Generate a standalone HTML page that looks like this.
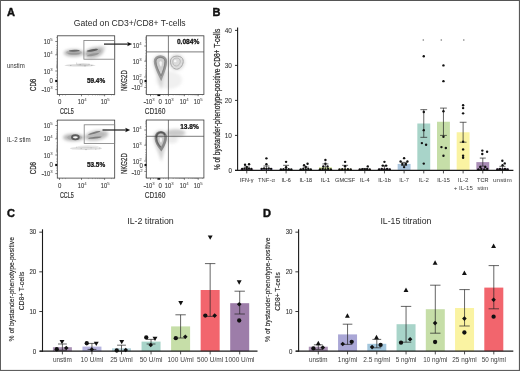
<!DOCTYPE html>
<html><head><meta charset="utf-8"><title>Figure</title>
<style>html,body{margin:0;padding:0;background:#fff;}body{width:520px;height:371px;overflow:hidden;font-family:"Liberation Sans", sans-serif;}svg{display:block;opacity:0.999;font-family:"Liberation Sans", sans-serif;}</style>
</head><body>
<svg width="520" height="371" viewBox="0 0 520 371">
<defs>
<filter id="b1" x="-30%" y="-30%" width="160%" height="160%"><feGaussianBlur stdDeviation="0.7"/></filter>
<filter id="b2" x="-30%" y="-30%" width="160%" height="160%"><feGaussianBlur stdDeviation="1.4"/></filter>
<filter id="b3" x="-30%" y="-30%" width="160%" height="160%"><feGaussianBlur stdDeviation="2.2"/></filter>
</defs>
<rect x="0" y="0" width="520" height="371" fill="#fff"/>
<rect x="0" y="0" width="520" height="1" fill="#555"/>
<rect x="0" y="0" width="1" height="371" fill="#5e5e5e"/>
<rect x="518.9" y="0" width="1.1" height="371" fill="#5a5a5a"/>
<rect x="0" y="369.9" width="520" height="1.1" fill="#5e5e5e"/>
<text x="6.9" y="15.8" font-size="11" text-anchor="start" fill="#111" font-weight="bold" stroke="#111" stroke-width="0.45">A</text>
<text x="212.4" y="16.2" font-size="11" text-anchor="start" fill="#111" font-weight="bold" stroke="#111" stroke-width="0.45">B</text>
<text x="7.0" y="217.3" font-size="11" text-anchor="start" fill="#111" font-weight="bold" stroke="#111" stroke-width="0.45">C</text>
<text x="263" y="217.1" font-size="11" text-anchor="start" fill="#111" font-weight="bold" stroke="#111" stroke-width="0.45">D</text>
<text transform="translate(73.75,26.4) scale(0.9912,1)" font-size="8.7" fill="#2a2a2a" font-weight="normal">Gated on CD3+/CD8+ T-cells</text>
<text transform="translate(127.2,224.4) scale(1.0029,1)" font-size="8.8" fill="#2a2a2a" font-weight="normal">IL-2 titration</text>
<text transform="translate(380.4,224.4) scale(0.9949,1)" font-size="8.8" fill="#2a2a2a" font-weight="normal">IL-15 titration</text>
<rect x="57.3" y="35.8" width="57.40" height="58.70" fill="#fff" stroke="#3a3a3a" stroke-width="0.8"/>
<text transform="translate(43.85,44) scale(0.8329,1)" font-size="6.8" fill="#363636" font-weight="normal" stroke="#363636" stroke-width="0.12">10</text>
<text transform="translate(50.3,41.2) scale(1.0274,1)" font-size="4.2" fill="#363636" font-weight="normal">5</text>
<text transform="translate(43.85,57) scale(0.8329,1)" font-size="6.8" fill="#363636" font-weight="normal" stroke="#363636" stroke-width="0.12">10</text>
<text transform="translate(50.3,54.2) scale(1.0274,1)" font-size="4.2" fill="#363636" font-weight="normal">4</text>
<text transform="translate(43.85,74) scale(0.8329,1)" font-size="6.8" fill="#363636" font-weight="normal" stroke="#363636" stroke-width="0.12">10</text>
<text transform="translate(50.3,71.2) scale(1.0274,1)" font-size="4.2" fill="#363636" font-weight="normal">3</text>
<text transform="translate(49.4,83) scale(0.8990,1)" font-size="6.8" fill="#363636" font-weight="normal" stroke="#363636" stroke-width="0.07">0</text>
<line x1="41.65" y1="90.50" x2="44.05" y2="90.50" stroke="#363636" stroke-width="0.8"/>
<text transform="translate(43.85,92) scale(0.8329,1)" font-size="6.8" fill="#363636" font-weight="normal" stroke="#363636" stroke-width="0.12">10</text>
<text transform="translate(50.3,89.2) scale(1.0274,1)" font-size="4.2" fill="#363636" font-weight="normal">3</text>
<line x1="55.30" y1="41.50" x2="57.30" y2="41.50" stroke="#444" stroke-width="0.7"/>
<line x1="55.30" y1="54.80" x2="57.30" y2="54.80" stroke="#444" stroke-width="0.7"/>
<line x1="55.30" y1="71.00" x2="57.30" y2="71.00" stroke="#444" stroke-width="0.7"/>
<line x1="55.30" y1="89.60" x2="57.30" y2="89.60" stroke="#444" stroke-width="0.7"/>
<line x1="56.20" y1="37.50" x2="57.30" y2="37.50" stroke="#666" stroke-width="0.5"/>
<line x1="56.20" y1="45.50" x2="57.30" y2="45.50" stroke="#666" stroke-width="0.5"/>
<line x1="56.20" y1="47.80" x2="57.30" y2="47.80" stroke="#666" stroke-width="0.5"/>
<line x1="56.20" y1="49.50" x2="57.30" y2="49.50" stroke="#666" stroke-width="0.5"/>
<line x1="56.20" y1="50.90" x2="57.30" y2="50.90" stroke="#666" stroke-width="0.5"/>
<line x1="56.20" y1="52.10" x2="57.30" y2="52.10" stroke="#666" stroke-width="0.5"/>
<line x1="56.20" y1="53.10" x2="57.30" y2="53.10" stroke="#666" stroke-width="0.5"/>
<line x1="56.20" y1="53.90" x2="57.30" y2="53.90" stroke="#666" stroke-width="0.5"/>
<line x1="56.20" y1="58.80" x2="57.30" y2="58.80" stroke="#666" stroke-width="0.5"/>
<line x1="56.20" y1="61.20" x2="57.30" y2="61.20" stroke="#666" stroke-width="0.5"/>
<line x1="56.20" y1="62.90" x2="57.30" y2="62.90" stroke="#666" stroke-width="0.5"/>
<line x1="56.20" y1="64.30" x2="57.30" y2="64.30" stroke="#666" stroke-width="0.5"/>
<line x1="56.20" y1="65.50" x2="57.30" y2="65.50" stroke="#666" stroke-width="0.5"/>
<line x1="56.20" y1="66.50" x2="57.30" y2="66.50" stroke="#666" stroke-width="0.5"/>
<line x1="56.20" y1="67.30" x2="57.30" y2="67.30" stroke="#666" stroke-width="0.5"/>
<line x1="56.20" y1="68.00" x2="57.30" y2="68.00" stroke="#666" stroke-width="0.5"/>
<line x1="56.20" y1="75.00" x2="57.30" y2="75.00" stroke="#666" stroke-width="0.5"/>
<line x1="56.20" y1="77.50" x2="57.30" y2="77.50" stroke="#666" stroke-width="0.5"/>
<line x1="56.20" y1="84.00" x2="57.30" y2="84.00" stroke="#666" stroke-width="0.5"/>
<line x1="56.20" y1="86.50" x2="57.30" y2="86.50" stroke="#666" stroke-width="0.5"/>
<rect x="55.2" y="79.90" width="2.0" height="2.2" fill="#111"/>
<text transform="translate(58.0,104) scale(0.8990,1)" font-size="6.8" fill="#363636" font-weight="normal" stroke="#363636" stroke-width="0.07">0</text>
<text transform="translate(77.85,104) scale(0.8329,1)" font-size="6.8" fill="#363636" font-weight="normal" stroke="#363636" stroke-width="0.12">10</text>
<text transform="translate(84.3,101.2) scale(1.0274,1)" font-size="4.2" fill="#363636" font-weight="normal">4</text>
<text transform="translate(100.85,104) scale(0.8329,1)" font-size="6.8" fill="#363636" font-weight="normal" stroke="#363636" stroke-width="0.12">10</text>
<text transform="translate(107.3,101.2) scale(1.0274,1)" font-size="4.2" fill="#363636" font-weight="normal">5</text>
<line x1="59.5" y1="94.50" x2="59.5" y2="96.30" stroke="#444" stroke-width="0.7"/>
<line x1="81.5" y1="94.50" x2="81.5" y2="96.30" stroke="#444" stroke-width="0.7"/>
<line x1="104.6" y1="94.50" x2="104.6" y2="96.30" stroke="#444" stroke-width="0.7"/>
<line x1="62.5" y1="94.50" x2="62.5" y2="95.50" stroke="#666" stroke-width="0.5"/>
<line x1="65.5" y1="94.50" x2="65.5" y2="95.50" stroke="#666" stroke-width="0.5"/>
<line x1="88.4" y1="94.50" x2="88.4" y2="95.50" stroke="#666" stroke-width="0.5"/>
<line x1="92.5" y1="94.50" x2="92.5" y2="95.50" stroke="#666" stroke-width="0.5"/>
<line x1="95.4" y1="94.50" x2="95.4" y2="95.50" stroke="#666" stroke-width="0.5"/>
<line x1="97.6" y1="94.50" x2="97.6" y2="95.50" stroke="#666" stroke-width="0.5"/>
<line x1="99.4" y1="94.50" x2="99.4" y2="95.50" stroke="#666" stroke-width="0.5"/>
<line x1="100.9" y1="94.50" x2="100.9" y2="95.50" stroke="#666" stroke-width="0.5"/>
<line x1="102.2" y1="94.50" x2="102.2" y2="95.50" stroke="#666" stroke-width="0.5"/>
<line x1="103.4" y1="94.50" x2="103.4" y2="95.50" stroke="#666" stroke-width="0.5"/>
<line x1="111.5" y1="94.50" x2="111.5" y2="95.50" stroke="#666" stroke-width="0.5"/>
<line x1="114" y1="94.50" x2="114" y2="95.50" stroke="#666" stroke-width="0.5"/>
<text transform="translate(59.9,113.9) scale(0.6350,1)" font-size="8.5" fill="#363636" font-weight="normal" stroke="#363636" stroke-width="0.22">CCL5</text>
<text transform="translate(33.0,84.9) rotate(-90) translate(-6.15,3.06) scale(0.7233,1)" font-size="8.5" fill="#363636" stroke="#363636" stroke-width="0.25">CD8</text>
<text transform="translate(86.9,82.7) scale(0.9779,1)" font-size="6.6" fill="#111" font-weight="bold" stroke="#111" stroke-width="0.25">59.4%</text>
<text transform="translate(6.9,67.9) scale(0.9208,1)" font-size="6.6" fill="#333" font-weight="normal">unstim</text>
<rect x="57.3" y="120.1" width="57.40" height="58.00" fill="#fff" stroke="#3a3a3a" stroke-width="0.8"/>
<text transform="translate(43.85,128) scale(0.8329,1)" font-size="6.8" fill="#363636" font-weight="normal" stroke="#363636" stroke-width="0.12">10</text>
<text transform="translate(50.3,125.2) scale(1.0274,1)" font-size="4.2" fill="#363636" font-weight="normal">5</text>
<text transform="translate(43.85,141) scale(0.8329,1)" font-size="6.8" fill="#363636" font-weight="normal" stroke="#363636" stroke-width="0.12">10</text>
<text transform="translate(50.3,138.2) scale(1.0274,1)" font-size="4.2" fill="#363636" font-weight="normal">4</text>
<text transform="translate(43.85,158) scale(0.8329,1)" font-size="6.8" fill="#363636" font-weight="normal" stroke="#363636" stroke-width="0.12">10</text>
<text transform="translate(50.3,155.2) scale(1.0274,1)" font-size="4.2" fill="#363636" font-weight="normal">3</text>
<text transform="translate(49.4,167) scale(0.8990,1)" font-size="6.8" fill="#363636" font-weight="normal" stroke="#363636" stroke-width="0.07">0</text>
<line x1="41.65" y1="174.50" x2="44.05" y2="174.50" stroke="#363636" stroke-width="0.8"/>
<text transform="translate(43.85,176) scale(0.8329,1)" font-size="6.8" fill="#363636" font-weight="normal" stroke="#363636" stroke-width="0.12">10</text>
<text transform="translate(50.3,173.2) scale(1.0274,1)" font-size="4.2" fill="#363636" font-weight="normal">3</text>
<line x1="55.30" y1="125.50" x2="57.30" y2="125.50" stroke="#444" stroke-width="0.7"/>
<line x1="55.30" y1="138.80" x2="57.30" y2="138.80" stroke="#444" stroke-width="0.7"/>
<line x1="55.30" y1="155.00" x2="57.30" y2="155.00" stroke="#444" stroke-width="0.7"/>
<line x1="55.30" y1="173.60" x2="57.30" y2="173.60" stroke="#444" stroke-width="0.7"/>
<line x1="56.20" y1="121.50" x2="57.30" y2="121.50" stroke="#666" stroke-width="0.5"/>
<line x1="56.20" y1="129.50" x2="57.30" y2="129.50" stroke="#666" stroke-width="0.5"/>
<line x1="56.20" y1="131.80" x2="57.30" y2="131.80" stroke="#666" stroke-width="0.5"/>
<line x1="56.20" y1="133.50" x2="57.30" y2="133.50" stroke="#666" stroke-width="0.5"/>
<line x1="56.20" y1="134.90" x2="57.30" y2="134.90" stroke="#666" stroke-width="0.5"/>
<line x1="56.20" y1="136.10" x2="57.30" y2="136.10" stroke="#666" stroke-width="0.5"/>
<line x1="56.20" y1="137.10" x2="57.30" y2="137.10" stroke="#666" stroke-width="0.5"/>
<line x1="56.20" y1="137.90" x2="57.30" y2="137.90" stroke="#666" stroke-width="0.5"/>
<line x1="56.20" y1="142.80" x2="57.30" y2="142.80" stroke="#666" stroke-width="0.5"/>
<line x1="56.20" y1="145.20" x2="57.30" y2="145.20" stroke="#666" stroke-width="0.5"/>
<line x1="56.20" y1="146.90" x2="57.30" y2="146.90" stroke="#666" stroke-width="0.5"/>
<line x1="56.20" y1="148.30" x2="57.30" y2="148.30" stroke="#666" stroke-width="0.5"/>
<line x1="56.20" y1="149.50" x2="57.30" y2="149.50" stroke="#666" stroke-width="0.5"/>
<line x1="56.20" y1="150.50" x2="57.30" y2="150.50" stroke="#666" stroke-width="0.5"/>
<line x1="56.20" y1="151.30" x2="57.30" y2="151.30" stroke="#666" stroke-width="0.5"/>
<line x1="56.20" y1="152.00" x2="57.30" y2="152.00" stroke="#666" stroke-width="0.5"/>
<line x1="56.20" y1="159.00" x2="57.30" y2="159.00" stroke="#666" stroke-width="0.5"/>
<line x1="56.20" y1="161.50" x2="57.30" y2="161.50" stroke="#666" stroke-width="0.5"/>
<line x1="56.20" y1="168.00" x2="57.30" y2="168.00" stroke="#666" stroke-width="0.5"/>
<line x1="56.20" y1="170.50" x2="57.30" y2="170.50" stroke="#666" stroke-width="0.5"/>
<rect x="55.2" y="163.90" width="2.0" height="2.2" fill="#111"/>
<text transform="translate(58.0,188) scale(0.8990,1)" font-size="6.8" fill="#363636" font-weight="normal" stroke="#363636" stroke-width="0.07">0</text>
<text transform="translate(77.85,188) scale(0.8329,1)" font-size="6.8" fill="#363636" font-weight="normal" stroke="#363636" stroke-width="0.12">10</text>
<text transform="translate(84.3,185.2) scale(1.0274,1)" font-size="4.2" fill="#363636" font-weight="normal">4</text>
<text transform="translate(100.85,188) scale(0.8329,1)" font-size="6.8" fill="#363636" font-weight="normal" stroke="#363636" stroke-width="0.12">10</text>
<text transform="translate(107.3,185.2) scale(1.0274,1)" font-size="4.2" fill="#363636" font-weight="normal">5</text>
<line x1="59.5" y1="178.10" x2="59.5" y2="179.90" stroke="#444" stroke-width="0.7"/>
<line x1="81.5" y1="178.10" x2="81.5" y2="179.90" stroke="#444" stroke-width="0.7"/>
<line x1="104.6" y1="178.10" x2="104.6" y2="179.90" stroke="#444" stroke-width="0.7"/>
<line x1="62.5" y1="178.10" x2="62.5" y2="179.10" stroke="#666" stroke-width="0.5"/>
<line x1="65.5" y1="178.10" x2="65.5" y2="179.10" stroke="#666" stroke-width="0.5"/>
<line x1="88.4" y1="178.10" x2="88.4" y2="179.10" stroke="#666" stroke-width="0.5"/>
<line x1="92.5" y1="178.10" x2="92.5" y2="179.10" stroke="#666" stroke-width="0.5"/>
<line x1="95.4" y1="178.10" x2="95.4" y2="179.10" stroke="#666" stroke-width="0.5"/>
<line x1="97.6" y1="178.10" x2="97.6" y2="179.10" stroke="#666" stroke-width="0.5"/>
<line x1="99.4" y1="178.10" x2="99.4" y2="179.10" stroke="#666" stroke-width="0.5"/>
<line x1="100.9" y1="178.10" x2="100.9" y2="179.10" stroke="#666" stroke-width="0.5"/>
<line x1="102.2" y1="178.10" x2="102.2" y2="179.10" stroke="#666" stroke-width="0.5"/>
<line x1="103.4" y1="178.10" x2="103.4" y2="179.10" stroke="#666" stroke-width="0.5"/>
<line x1="111.5" y1="178.10" x2="111.5" y2="179.10" stroke="#666" stroke-width="0.5"/>
<line x1="114" y1="178.10" x2="114" y2="179.10" stroke="#666" stroke-width="0.5"/>
<text transform="translate(59.9,197.9) scale(0.6350,1)" font-size="8.5" fill="#363636" font-weight="normal" stroke="#363636" stroke-width="0.22">CCL5</text>
<text transform="translate(33.0,168.1) rotate(-90) translate(-6.15,3.06) scale(0.7233,1)" font-size="8.5" fill="#363636" stroke="#363636" stroke-width="0.25">CD8</text>
<text transform="translate(86.9,167.4) scale(0.9779,1)" font-size="6.6" fill="#111" font-weight="bold" stroke="#111" stroke-width="0.25">53.5%</text>
<text transform="translate(6.9,142.4) scale(0.9405,1)" font-size="6.6" fill="#333" font-weight="normal">IL-2 stim</text>
<g filter="url(#b2)">
<ellipse cx="73.8" cy="53.0" rx="10" ry="3.8" fill="#a4a4a4" opacity="0.75"/>
<ellipse cx="94" cy="52.6" rx="10" ry="5.2" fill="#a4a4a4" opacity="0.75" transform="rotate(-14 94 52.6)"/>
<ellipse cx="101.5" cy="48.3" rx="4" ry="2.2" fill="#bbb" opacity="0.5"/>
</g>
<g filter="url(#b1)">
<ellipse cx="80" cy="65.3" rx="15.5" ry="1.2" fill="#b4b4b4" opacity="0.5"/>
<ellipse cx="83" cy="64.6" rx="7" ry="1.6" fill="#b0b0b0" opacity="0.35"/>
<path d="M76 63.2h1.2M79.5 64.6h1.5M84 65.9h2M88.5 64.2h1.2M91 65.4h1.4M70 65.5h1.4" stroke="#888" stroke-width="0.8" opacity="0.5"/>
<ellipse cx="74" cy="52.4" rx="7.8" ry="2.3" fill="#9a9a9a" opacity="0.5"/>
<ellipse cx="93.6" cy="52.3" rx="7.6" ry="3.3" fill="#a0a0a0" opacity="0.38" transform="rotate(-14 93.6 52.3)"/>
<ellipse cx="74.3" cy="50.7" rx="5.4" ry="1.0" fill="#5e5e5e" opacity="0.85" transform="rotate(-3 74.3 50.7)"/>
<ellipse cx="74" cy="53.8" rx="6" ry="1.0" fill="#8a8a8a" opacity="0.55"/>
<ellipse cx="92.3" cy="50.3" rx="5.8" ry="1.15" fill="#555" opacity="0.9" transform="rotate(-10 92.3 50.3)"/>
<ellipse cx="93" cy="54.6" rx="6.2" ry="1.1" fill="#858585" opacity="0.65" transform="rotate(-12 93 54.6)"/>
</g>
<g filter="url(#b2)">
<ellipse cx="73.5" cy="137.5" rx="10.5" ry="3.8" fill="#a0a0a0" opacity="0.75"/>
<ellipse cx="96.5" cy="135.5" rx="12" ry="5" fill="#a6a6a6" opacity="0.7" transform="rotate(-10 96.5 135.5)"/>
</g>
<g filter="url(#b1)">
<ellipse cx="86" cy="148.4" rx="16" ry="1.6" fill="#b8b8b8" opacity="0.45"/>
<ellipse cx="88" cy="146.6" rx="11" ry="1.3" fill="#bbb" opacity="0.3"/>
<path d="M76 147.2h1.2M80.5 148.6h1.5M85 149.6h2M90.5 147.9h1.2M95 149.2h1.4M99 148h1.4" stroke="#909090" stroke-width="0.8" opacity="0.45"/>
<ellipse cx="74.6" cy="137.4" rx="7.5" ry="2.8" fill="#9a9a9a" opacity="0.45"/>
<ellipse cx="95.5" cy="135.6" rx="9" ry="3.2" fill="#a8a8a8" opacity="0.28" transform="rotate(-10 95.5 135.6)"/>
<ellipse cx="75.4" cy="137.3" rx="3.4" ry="2.1" fill="#f4f4f4" stroke="#5c5c5c" stroke-width="1.9"/>
<ellipse cx="94.3" cy="132.9" rx="6.4" ry="0.9" fill="#707070" opacity="0.85" transform="rotate(-15 94.3 132.9)"/>
<ellipse cx="95" cy="137.6" rx="6.8" ry="0.9" fill="#707070" opacity="0.85" transform="rotate(-7 95 137.6)"/>
</g>
<rect x="83.9" y="40.5" width="30.8" height="18.7" fill="none" stroke="#7c7c7c" stroke-width="0.8"/>
<rect x="84.2" y="124.8" width="30.5" height="18.6" fill="none" stroke="#7c7c7c" stroke-width="0.8"/>
<rect x="146.3" y="35.8" width="57.60" height="58.60" fill="#fff" stroke="#3a3a3a" stroke-width="0.8"/>
<text transform="translate(132.85,48) scale(0.8329,1)" font-size="6.8" fill="#363636" font-weight="normal" stroke="#363636" stroke-width="0.12">10</text>
<text transform="translate(139.3,45.2) scale(1.0274,1)" font-size="4.2" fill="#363636" font-weight="normal">4</text>
<text transform="translate(132.85,64) scale(0.8329,1)" font-size="6.8" fill="#363636" font-weight="normal" stroke="#363636" stroke-width="0.12">10</text>
<text transform="translate(139.3,61.2) scale(1.0274,1)" font-size="4.2" fill="#363636" font-weight="normal">3</text>
<text transform="translate(132.85,80) scale(0.8329,1)" font-size="6.8" fill="#363636" font-weight="normal" stroke="#363636" stroke-width="0.12">10</text>
<text transform="translate(139.3,77.2) scale(1.0274,1)" font-size="4.2" fill="#363636" font-weight="normal">2</text>
<text transform="translate(139.5,84) scale(0.8990,1)" font-size="6.8" fill="#363636" font-weight="normal" stroke="#363636" stroke-width="0.07">0</text>
<line x1="131.65" y1="88.50" x2="134.05" y2="88.50" stroke="#363636" stroke-width="0.8"/>
<text transform="translate(133.85,90) scale(0.8329,1)" font-size="6.8" fill="#363636" font-weight="normal" stroke="#363636" stroke-width="0.12">10</text>
<text transform="translate(140.3,87.2) scale(1.0274,1)" font-size="4.2" fill="#363636" font-weight="normal">2</text>
<line x1="144.30" y1="46.00" x2="146.30" y2="46.00" stroke="#444" stroke-width="0.7"/>
<line x1="144.30" y1="61.20" x2="146.30" y2="61.20" stroke="#444" stroke-width="0.7"/>
<line x1="144.30" y1="77.00" x2="146.30" y2="77.00" stroke="#444" stroke-width="0.7"/>
<line x1="144.30" y1="87.40" x2="146.30" y2="87.40" stroke="#444" stroke-width="0.7"/>
<line x1="145.20" y1="37.30" x2="146.30" y2="37.30" stroke="#666" stroke-width="0.5"/>
<line x1="145.20" y1="38.30" x2="146.30" y2="38.30" stroke="#666" stroke-width="0.5"/>
<line x1="145.20" y1="39.50" x2="146.30" y2="39.50" stroke="#666" stroke-width="0.5"/>
<line x1="145.20" y1="40.90" x2="146.30" y2="40.90" stroke="#666" stroke-width="0.5"/>
<line x1="145.20" y1="42.60" x2="146.30" y2="42.60" stroke="#666" stroke-width="0.5"/>
<line x1="145.20" y1="50.60" x2="146.30" y2="50.60" stroke="#666" stroke-width="0.5"/>
<line x1="145.20" y1="53.30" x2="146.30" y2="53.30" stroke="#666" stroke-width="0.5"/>
<line x1="145.20" y1="55.20" x2="146.30" y2="55.20" stroke="#666" stroke-width="0.5"/>
<line x1="145.20" y1="56.70" x2="146.30" y2="56.70" stroke="#666" stroke-width="0.5"/>
<line x1="145.20" y1="57.90" x2="146.30" y2="57.90" stroke="#666" stroke-width="0.5"/>
<line x1="145.20" y1="58.90" x2="146.30" y2="58.90" stroke="#666" stroke-width="0.5"/>
<line x1="145.20" y1="59.80" x2="146.30" y2="59.80" stroke="#666" stroke-width="0.5"/>
<line x1="145.20" y1="60.50" x2="146.30" y2="60.50" stroke="#666" stroke-width="0.5"/>
<line x1="145.20" y1="65.80" x2="146.30" y2="65.80" stroke="#666" stroke-width="0.5"/>
<line x1="145.20" y1="68.50" x2="146.30" y2="68.50" stroke="#666" stroke-width="0.5"/>
<line x1="145.20" y1="70.40" x2="146.30" y2="70.40" stroke="#666" stroke-width="0.5"/>
<line x1="145.20" y1="71.90" x2="146.30" y2="71.90" stroke="#666" stroke-width="0.5"/>
<line x1="145.20" y1="73.10" x2="146.30" y2="73.10" stroke="#666" stroke-width="0.5"/>
<line x1="145.20" y1="74.10" x2="146.30" y2="74.10" stroke="#666" stroke-width="0.5"/>
<line x1="145.20" y1="75.00" x2="146.30" y2="75.00" stroke="#666" stroke-width="0.5"/>
<line x1="145.20" y1="75.70" x2="146.30" y2="75.70" stroke="#666" stroke-width="0.5"/>
<line x1="145.20" y1="79.30" x2="146.30" y2="79.30" stroke="#666" stroke-width="0.5"/>
<line x1="145.20" y1="83.50" x2="146.30" y2="83.50" stroke="#666" stroke-width="0.5"/>
<line x1="145.20" y1="85.30" x2="146.30" y2="85.30" stroke="#666" stroke-width="0.5"/>
<line x1="145.20" y1="91.00" x2="146.30" y2="91.00" stroke="#666" stroke-width="0.5"/>
<line x1="145.20" y1="93.00" x2="146.30" y2="93.00" stroke="#666" stroke-width="0.5"/>
<rect x="144.5" y="80.00" width="2.0" height="2.2" fill="#111"/>
<line x1="143.65" y1="102.50" x2="146.05" y2="102.50" stroke="#363636" stroke-width="0.8"/>
<text transform="translate(145.85,104) scale(0.8329,1)" font-size="6.8" fill="#363636" font-weight="normal" stroke="#363636" stroke-width="0.12">10</text>
<text transform="translate(152.3,101.2) scale(1.0274,1)" font-size="4.2" fill="#363636" font-weight="normal">3</text>
<text transform="translate(158.4,104) scale(0.8990,1)" font-size="6.8" fill="#363636" font-weight="normal" stroke="#363636" stroke-width="0.07">0</text>
<text transform="translate(164.85,104) scale(0.8329,1)" font-size="6.8" fill="#363636" font-weight="normal" stroke="#363636" stroke-width="0.12">10</text>
<text transform="translate(171.3,101.2) scale(1.0274,1)" font-size="4.2" fill="#363636" font-weight="normal">3</text>
<text transform="translate(179.85,104) scale(0.8329,1)" font-size="6.8" fill="#363636" font-weight="normal" stroke="#363636" stroke-width="0.12">10</text>
<text transform="translate(186.3,101.2) scale(1.0274,1)" font-size="4.2" fill="#363636" font-weight="normal">4</text>
<text transform="translate(193.85,104) scale(0.8329,1)" font-size="6.8" fill="#363636" font-weight="normal" stroke="#363636" stroke-width="0.12">10</text>
<text transform="translate(200.3,101.2) scale(1.0274,1)" font-size="4.2" fill="#363636" font-weight="normal">5</text>
<line x1="150.5" y1="94.40" x2="150.5" y2="96.20" stroke="#444" stroke-width="0.7"/>
<line x1="168.4" y1="94.40" x2="168.4" y2="96.20" stroke="#444" stroke-width="0.7"/>
<line x1="184.4" y1="94.40" x2="184.4" y2="96.20" stroke="#444" stroke-width="0.7"/>
<line x1="198.2" y1="94.40" x2="198.2" y2="96.20" stroke="#444" stroke-width="0.7"/>
<line x1="148" y1="94.40" x2="148" y2="95.40" stroke="#666" stroke-width="0.5"/>
<line x1="153.5" y1="94.40" x2="153.5" y2="95.40" stroke="#666" stroke-width="0.5"/>
<line x1="156" y1="94.40" x2="156" y2="95.40" stroke="#666" stroke-width="0.5"/>
<line x1="163.5" y1="94.40" x2="163.5" y2="95.40" stroke="#666" stroke-width="0.5"/>
<line x1="165.8" y1="94.40" x2="165.8" y2="95.40" stroke="#666" stroke-width="0.5"/>
<line x1="173.2" y1="94.40" x2="173.2" y2="95.40" stroke="#666" stroke-width="0.5"/>
<line x1="176" y1="94.40" x2="176" y2="95.40" stroke="#666" stroke-width="0.5"/>
<line x1="178" y1="94.40" x2="178" y2="95.40" stroke="#666" stroke-width="0.5"/>
<line x1="179.6" y1="94.40" x2="179.6" y2="95.40" stroke="#666" stroke-width="0.5"/>
<line x1="180.9" y1="94.40" x2="180.9" y2="95.40" stroke="#666" stroke-width="0.5"/>
<line x1="182" y1="94.40" x2="182" y2="95.40" stroke="#666" stroke-width="0.5"/>
<line x1="183" y1="94.40" x2="183" y2="95.40" stroke="#666" stroke-width="0.5"/>
<line x1="183.8" y1="94.40" x2="183.8" y2="95.40" stroke="#666" stroke-width="0.5"/>
<line x1="188.6" y1="94.40" x2="188.6" y2="95.40" stroke="#666" stroke-width="0.5"/>
<line x1="191" y1="94.40" x2="191" y2="95.40" stroke="#666" stroke-width="0.5"/>
<line x1="192.7" y1="94.40" x2="192.7" y2="95.40" stroke="#666" stroke-width="0.5"/>
<line x1="194.1" y1="94.40" x2="194.1" y2="95.40" stroke="#666" stroke-width="0.5"/>
<line x1="195.2" y1="94.40" x2="195.2" y2="95.40" stroke="#666" stroke-width="0.5"/>
<line x1="196.1" y1="94.40" x2="196.1" y2="95.40" stroke="#666" stroke-width="0.5"/>
<line x1="196.9" y1="94.40" x2="196.9" y2="95.40" stroke="#666" stroke-width="0.5"/>
<line x1="197.6" y1="94.40" x2="197.6" y2="95.40" stroke="#666" stroke-width="0.5"/>
<line x1="202.4" y1="94.40" x2="202.4" y2="95.40" stroke="#666" stroke-width="0.5"/>
<rect x="157.4" y="94.50" width="2.9" height="1.6" fill="#111"/>
<text transform="translate(144.8,113.7) scale(0.7785,1)" font-size="8.5" fill="#363636" font-weight="normal" stroke="#363636" stroke-width="0.16">CD160</text>
<text transform="translate(123.7,80.6) rotate(-90) translate(-10.40,3.02) scale(0.7187,1)" font-size="8.4" fill="#363636" stroke="#363636" stroke-width="0.25">NKG2D</text>
<text transform="translate(176.9,44.4) scale(1.0007,1)" font-size="6.6" fill="#111" font-weight="bold" stroke="#111" stroke-width="0.25">0.084%</text>
<rect x="146.3" y="120.0" width="57.60" height="58.00" fill="#fff" stroke="#3a3a3a" stroke-width="0.8"/>
<text transform="translate(132.85,132) scale(0.8329,1)" font-size="6.8" fill="#363636" font-weight="normal" stroke="#363636" stroke-width="0.12">10</text>
<text transform="translate(139.3,129.2) scale(1.0274,1)" font-size="4.2" fill="#363636" font-weight="normal">4</text>
<text transform="translate(132.85,148) scale(0.8329,1)" font-size="6.8" fill="#363636" font-weight="normal" stroke="#363636" stroke-width="0.12">10</text>
<text transform="translate(139.3,145.2) scale(1.0274,1)" font-size="4.2" fill="#363636" font-weight="normal">3</text>
<text transform="translate(132.85,164) scale(0.8329,1)" font-size="6.8" fill="#363636" font-weight="normal" stroke="#363636" stroke-width="0.12">10</text>
<text transform="translate(139.3,161.2) scale(1.0274,1)" font-size="4.2" fill="#363636" font-weight="normal">2</text>
<text transform="translate(139.5,168) scale(0.8990,1)" font-size="6.8" fill="#363636" font-weight="normal" stroke="#363636" stroke-width="0.07">0</text>
<line x1="131.65" y1="173.50" x2="134.05" y2="173.50" stroke="#363636" stroke-width="0.8"/>
<text transform="translate(133.85,175) scale(0.8329,1)" font-size="6.8" fill="#363636" font-weight="normal" stroke="#363636" stroke-width="0.12">10</text>
<text transform="translate(140.3,172.2) scale(1.0274,1)" font-size="4.2" fill="#363636" font-weight="normal">2</text>
<line x1="144.30" y1="130.00" x2="146.30" y2="130.00" stroke="#444" stroke-width="0.7"/>
<line x1="144.30" y1="145.20" x2="146.30" y2="145.20" stroke="#444" stroke-width="0.7"/>
<line x1="144.30" y1="161.00" x2="146.30" y2="161.00" stroke="#444" stroke-width="0.7"/>
<line x1="144.30" y1="171.40" x2="146.30" y2="171.40" stroke="#444" stroke-width="0.7"/>
<line x1="145.20" y1="121.30" x2="146.30" y2="121.30" stroke="#666" stroke-width="0.5"/>
<line x1="145.20" y1="122.30" x2="146.30" y2="122.30" stroke="#666" stroke-width="0.5"/>
<line x1="145.20" y1="123.50" x2="146.30" y2="123.50" stroke="#666" stroke-width="0.5"/>
<line x1="145.20" y1="124.90" x2="146.30" y2="124.90" stroke="#666" stroke-width="0.5"/>
<line x1="145.20" y1="126.60" x2="146.30" y2="126.60" stroke="#666" stroke-width="0.5"/>
<line x1="145.20" y1="134.60" x2="146.30" y2="134.60" stroke="#666" stroke-width="0.5"/>
<line x1="145.20" y1="137.30" x2="146.30" y2="137.30" stroke="#666" stroke-width="0.5"/>
<line x1="145.20" y1="139.20" x2="146.30" y2="139.20" stroke="#666" stroke-width="0.5"/>
<line x1="145.20" y1="140.70" x2="146.30" y2="140.70" stroke="#666" stroke-width="0.5"/>
<line x1="145.20" y1="141.90" x2="146.30" y2="141.90" stroke="#666" stroke-width="0.5"/>
<line x1="145.20" y1="142.90" x2="146.30" y2="142.90" stroke="#666" stroke-width="0.5"/>
<line x1="145.20" y1="143.80" x2="146.30" y2="143.80" stroke="#666" stroke-width="0.5"/>
<line x1="145.20" y1="144.50" x2="146.30" y2="144.50" stroke="#666" stroke-width="0.5"/>
<line x1="145.20" y1="149.80" x2="146.30" y2="149.80" stroke="#666" stroke-width="0.5"/>
<line x1="145.20" y1="152.50" x2="146.30" y2="152.50" stroke="#666" stroke-width="0.5"/>
<line x1="145.20" y1="154.40" x2="146.30" y2="154.40" stroke="#666" stroke-width="0.5"/>
<line x1="145.20" y1="155.90" x2="146.30" y2="155.90" stroke="#666" stroke-width="0.5"/>
<line x1="145.20" y1="157.10" x2="146.30" y2="157.10" stroke="#666" stroke-width="0.5"/>
<line x1="145.20" y1="158.10" x2="146.30" y2="158.10" stroke="#666" stroke-width="0.5"/>
<line x1="145.20" y1="159.00" x2="146.30" y2="159.00" stroke="#666" stroke-width="0.5"/>
<line x1="145.20" y1="159.70" x2="146.30" y2="159.70" stroke="#666" stroke-width="0.5"/>
<line x1="145.20" y1="163.30" x2="146.30" y2="163.30" stroke="#666" stroke-width="0.5"/>
<line x1="145.20" y1="167.50" x2="146.30" y2="167.50" stroke="#666" stroke-width="0.5"/>
<line x1="145.20" y1="169.30" x2="146.30" y2="169.30" stroke="#666" stroke-width="0.5"/>
<line x1="145.20" y1="175.00" x2="146.30" y2="175.00" stroke="#666" stroke-width="0.5"/>
<line x1="145.20" y1="177.00" x2="146.30" y2="177.00" stroke="#666" stroke-width="0.5"/>
<rect x="144.5" y="164.00" width="2.0" height="2.2" fill="#111"/>
<line x1="143.65" y1="186.50" x2="146.05" y2="186.50" stroke="#363636" stroke-width="0.8"/>
<text transform="translate(145.85,188) scale(0.8329,1)" font-size="6.8" fill="#363636" font-weight="normal" stroke="#363636" stroke-width="0.12">10</text>
<text transform="translate(152.3,185.2) scale(1.0274,1)" font-size="4.2" fill="#363636" font-weight="normal">3</text>
<text transform="translate(158.4,188) scale(0.8990,1)" font-size="6.8" fill="#363636" font-weight="normal" stroke="#363636" stroke-width="0.07">0</text>
<text transform="translate(164.85,188) scale(0.8329,1)" font-size="6.8" fill="#363636" font-weight="normal" stroke="#363636" stroke-width="0.12">10</text>
<text transform="translate(171.3,185.2) scale(1.0274,1)" font-size="4.2" fill="#363636" font-weight="normal">3</text>
<text transform="translate(179.85,188) scale(0.8329,1)" font-size="6.8" fill="#363636" font-weight="normal" stroke="#363636" stroke-width="0.12">10</text>
<text transform="translate(186.3,185.2) scale(1.0274,1)" font-size="4.2" fill="#363636" font-weight="normal">4</text>
<text transform="translate(193.85,188) scale(0.8329,1)" font-size="6.8" fill="#363636" font-weight="normal" stroke="#363636" stroke-width="0.12">10</text>
<text transform="translate(200.3,185.2) scale(1.0274,1)" font-size="4.2" fill="#363636" font-weight="normal">5</text>
<line x1="150.5" y1="178.00" x2="150.5" y2="179.80" stroke="#444" stroke-width="0.7"/>
<line x1="168.4" y1="178.00" x2="168.4" y2="179.80" stroke="#444" stroke-width="0.7"/>
<line x1="184.4" y1="178.00" x2="184.4" y2="179.80" stroke="#444" stroke-width="0.7"/>
<line x1="198.2" y1="178.00" x2="198.2" y2="179.80" stroke="#444" stroke-width="0.7"/>
<line x1="148" y1="178.00" x2="148" y2="179.00" stroke="#666" stroke-width="0.5"/>
<line x1="153.5" y1="178.00" x2="153.5" y2="179.00" stroke="#666" stroke-width="0.5"/>
<line x1="156" y1="178.00" x2="156" y2="179.00" stroke="#666" stroke-width="0.5"/>
<line x1="163.5" y1="178.00" x2="163.5" y2="179.00" stroke="#666" stroke-width="0.5"/>
<line x1="165.8" y1="178.00" x2="165.8" y2="179.00" stroke="#666" stroke-width="0.5"/>
<line x1="173.2" y1="178.00" x2="173.2" y2="179.00" stroke="#666" stroke-width="0.5"/>
<line x1="176" y1="178.00" x2="176" y2="179.00" stroke="#666" stroke-width="0.5"/>
<line x1="178" y1="178.00" x2="178" y2="179.00" stroke="#666" stroke-width="0.5"/>
<line x1="179.6" y1="178.00" x2="179.6" y2="179.00" stroke="#666" stroke-width="0.5"/>
<line x1="180.9" y1="178.00" x2="180.9" y2="179.00" stroke="#666" stroke-width="0.5"/>
<line x1="182" y1="178.00" x2="182" y2="179.00" stroke="#666" stroke-width="0.5"/>
<line x1="183" y1="178.00" x2="183" y2="179.00" stroke="#666" stroke-width="0.5"/>
<line x1="183.8" y1="178.00" x2="183.8" y2="179.00" stroke="#666" stroke-width="0.5"/>
<line x1="188.6" y1="178.00" x2="188.6" y2="179.00" stroke="#666" stroke-width="0.5"/>
<line x1="191" y1="178.00" x2="191" y2="179.00" stroke="#666" stroke-width="0.5"/>
<line x1="192.7" y1="178.00" x2="192.7" y2="179.00" stroke="#666" stroke-width="0.5"/>
<line x1="194.1" y1="178.00" x2="194.1" y2="179.00" stroke="#666" stroke-width="0.5"/>
<line x1="195.2" y1="178.00" x2="195.2" y2="179.00" stroke="#666" stroke-width="0.5"/>
<line x1="196.1" y1="178.00" x2="196.1" y2="179.00" stroke="#666" stroke-width="0.5"/>
<line x1="196.9" y1="178.00" x2="196.9" y2="179.00" stroke="#666" stroke-width="0.5"/>
<line x1="197.6" y1="178.00" x2="197.6" y2="179.00" stroke="#666" stroke-width="0.5"/>
<line x1="202.4" y1="178.00" x2="202.4" y2="179.00" stroke="#666" stroke-width="0.5"/>
<rect x="157.4" y="178.10" width="2.9" height="1.6" fill="#111"/>
<text transform="translate(144.8,197.70000000000002) scale(0.7785,1)" font-size="8.5" fill="#363636" font-weight="normal" stroke="#363636" stroke-width="0.16">CD160</text>
<text transform="translate(123.7,163.6) rotate(-90) translate(-10.40,3.02) scale(0.7187,1)" font-size="8.4" fill="#363636" stroke="#363636" stroke-width="0.25">NKG2D</text>
<text transform="translate(180.2,128.9) scale(0.9939,1)" font-size="6.6" fill="#111" font-weight="bold" stroke="#111" stroke-width="0.25">13.8%</text>
<g filter="url(#b2)">
<path d="M153.4 61 C153.4 53.3,167.2 53.3,167.1 61 C167 68,163.5 76,161.2 91 C158.5 76,153.4 68,153.4 61 Z" fill="#b0b0b0" opacity="0.6"/>
<ellipse cx="176.8" cy="62.3" rx="8" ry="8" fill="#bdbdbd" opacity="0.55"/>
<ellipse cx="169" cy="80" rx="13" ry="9" fill="#ccc" opacity="0.3"/>
</g>
<g filter="url(#b1)" fill="none">
<path d="M155.1 61.5 C154.9 55.0,165.8 55.0,165.8 61.5 C165.8 66.5,163.4 72.5,161.1 78 C158.6 72.5,155.2 66.5,155.1 61.5 Z" stroke="#9a9a9a" stroke-width="2.6" fill="#cdcdcd"/>
<path d="M155.8 61.5 C155.6 56,165.0 56,165.0 61.5 C165.0 66,162.9 71.5,161.1 76 C158.8 71.5,155.9 66,155.8 61.5 Z" stroke="#7c7c7c" stroke-width="0.8"/>
<path d="M159.6 62.4 C159.6 61.2,161.8 61.2,161.8 62.8 C161.8 64.2,161.3 65.4,161 66.4 C160.4 65.4,159.6 64.2,159.6 62.4 Z" stroke="#fff" stroke-width="0.5" fill="#fff" opacity="0.8"/>
<path d="M170.6 60 C171.5 55.5,180 54.8,182.5 58.5 C184.5 62,182 67.5,178 69 C174 70,169.8 66,170.6 60 Z" stroke="#a6a6a6" stroke-width="1.0"/>
<path d="M172.8 60.6 C173.6 57.5,178.8 57.2,180 60 C181 62.8,179 65.6,176.6 66 C174 66.2,172.2 63.8,172.8 60.6 Z" stroke="#b2b2b2" stroke-width="0.8"/>
<ellipse cx="175.2" cy="61.2" rx="1.3" ry="1.1" fill="#fff" stroke="none" opacity="0.8"/>
</g>
<g filter="url(#b2)">
<path d="M153.6 138 C153.6 127.8,167.2 127.8,167.2 137 C167.2 143,164 150,161.4 162 C158.5 150,153.6 144,153.6 138 Z" fill="#b0b0b0" opacity="0.6"/>
<ellipse cx="175.5" cy="133.0" rx="10" ry="3.8" fill="#b4b4b4" opacity="0.7"/>
<ellipse cx="172" cy="140" rx="6" ry="3.2" fill="#ccc" opacity="0.4"/>
</g>
<g filter="url(#b1)" fill="none">
<path d="M155.9 138 C155.6 130.5,165.6 130.5,165.6 137.5 C165.6 141.5,163.3 146,161.2 149.2 C158.6 146,156 142,155.9 138 Z" stroke="#888" stroke-width="2.7" fill="#c4c4c4"/>
<path d="M156.5 138.5 C155.8 131.2,163.8 130.6,165 135" stroke="#585858" stroke-width="1.5"/>
<path d="M156.5 138.5 C156.7 142,158.6 145,160.6 147" stroke="#666" stroke-width="1.3"/>
<path d="M159.8 139 C159.8 137.6,161.9 137.6,161.9 139.2 C161.9 140.6,161.4 141.6,161 142.4 C160.4 141.6,159.8 140.6,159.8 139 Z" stroke="#fff" stroke-width="0.5" fill="#fff" opacity="0.85"/>
</g>
<line x1="168.4" y1="35.8" x2="168.4" y2="94.4" stroke="#444" stroke-width="0.7"/>
<line x1="146.3" y1="51.9" x2="203.9" y2="51.9" stroke="#444" stroke-width="0.7"/>
<line x1="168.4" y1="120.0" x2="168.4" y2="178.0" stroke="#444" stroke-width="0.7"/>
<line x1="146.3" y1="136.3" x2="203.9" y2="136.3" stroke="#444" stroke-width="0.7"/>
<line x1="104" y1="44.1" x2="129.2" y2="44.1" stroke="#222" stroke-width="1.25"/>
<path d="M132.2 44.1 L127.19999999999999 41.9 L128.2 44.1 L127.19999999999999 46.300000000000004 Z" fill="#111"/>
<line x1="102.5" y1="130.0" x2="127.19999999999999" y2="130.0" stroke="#222" stroke-width="1.25"/>
<path d="M130.2 130.0 L125.19999999999999 127.8 L126.19999999999999 130.0 L125.19999999999999 132.2 Z" fill="#111"/>
<line x1="235.0" y1="170.40" x2="237.6" y2="170.40" stroke="#222" stroke-width="0.9"/>
<text transform="translate(228.5,172.8) scale(0.8491,1)" font-size="7.2" fill="#333" font-weight="normal" stroke="#333" stroke-width="0.11">0</text>
<line x1="235.0" y1="135.40" x2="237.6" y2="135.40" stroke="#222" stroke-width="0.9"/>
<text transform="translate(224.7,137.8) scale(0.8990,1)" font-size="7.2" fill="#333" font-weight="normal" stroke="#333" stroke-width="0.07">10</text>
<line x1="235.0" y1="100.40" x2="237.6" y2="100.40" stroke="#222" stroke-width="0.9"/>
<text transform="translate(224.7,102.8) scale(0.8990,1)" font-size="7.2" fill="#333" font-weight="normal" stroke="#333" stroke-width="0.07">20</text>
<line x1="235.0" y1="65.40" x2="237.6" y2="65.40" stroke="#222" stroke-width="0.9"/>
<text transform="translate(224.7,67.8) scale(0.8990,1)" font-size="7.2" fill="#333" font-weight="normal" stroke="#333" stroke-width="0.07">30</text>
<line x1="235.0" y1="30.40" x2="237.6" y2="30.40" stroke="#222" stroke-width="0.9"/>
<text transform="translate(224.7,32.8) scale(0.8990,1)" font-size="7.2" fill="#333" font-weight="normal" stroke="#333" stroke-width="0.07">40</text>
<text transform="translate(216.6,99.3) rotate(-90) translate(-71.00,3.10) scale(0.7712,1)" font-size="8.6" fill="#262626" stroke="#262626" stroke-width="0.21">% of bystander-phenotype-positive CD8+ T-cells</text>
<rect x="240.30" y="168.83" width="12.9" height="1.57" fill="#a98db5"/>
<rect x="259.97" y="168.65" width="12.9" height="1.75" fill="#b7b5e0"/>
<rect x="279.64" y="169.00" width="12.9" height="1.40" fill="#b4cde2"/>
<rect x="299.31" y="169.00" width="12.9" height="1.40" fill="#b0d9cf"/>
<rect x="318.98" y="167.25" width="12.9" height="3.15" fill="#d2e39a"/>
<rect x="338.65" y="168.83" width="12.9" height="1.57" fill="#f8ee80"/>
<rect x="358.32" y="169.53" width="12.9" height="0.88" fill="#f2a0a4"/>
<rect x="377.99" y="168.65" width="12.9" height="1.75" fill="#a98db5"/>
<rect x="397.66" y="163.93" width="12.9" height="6.48" fill="#a9c4dc"/>
<rect x="417.33" y="123.50" width="12.9" height="46.90" fill="#a8d4c9"/>
<rect x="437.00" y="121.75" width="12.9" height="48.65" fill="#c6dea8"/>
<rect x="456.67" y="132.25" width="12.9" height="38.15" fill="#faf3a2"/>
<rect x="476.34" y="162.11" width="12.9" height="8.29" fill="#a98db5"/>
<rect x="496.01" y="168.41" width="12.9" height="1.99" fill="#a98db5"/>
<line x1="237.6" y1="27.6" x2="237.6" y2="171.0" stroke="#1a1a1a" stroke-width="1.1"/>
<line x1="235.0" y1="170.4" x2="513.4" y2="170.4" stroke="#1a1a1a" stroke-width="1.2"/>
<line x1="246.75" y1="170.4" x2="246.75" y2="173.4" stroke="#222" stroke-width="0.8"/>
<path d="M246.75 167.08 V170.40 M243.75 167.08 H249.75 M243.75 170.40 H249.75" stroke="#222" stroke-width="0.7" fill="none"/>
<circle cx="245.05" cy="164.69" r="1.2" fill="#111"/>
<circle cx="249.05" cy="164.21" r="1.2" fill="#111"/>
<circle cx="246.75" cy="167.00" r="1.2" fill="#111"/>
<circle cx="242.15" cy="168.93" r="1.2" fill="#111"/>
<circle cx="244.45" cy="168.65" r="1.2" fill="#111"/>
<circle cx="246.75" cy="168.93" r="1.2" fill="#111"/>
<circle cx="249.05" cy="168.65" r="1.2" fill="#111"/>
<circle cx="251.35" cy="168.93" r="1.2" fill="#111"/>
<text transform="translate(240.1,181.8) scale(0.8778,1)" font-size="6.2" fill="#404040" font-weight="normal" stroke="#404040" stroke-width="0.09">IFN-γ</text>
<line x1="266.42" y1="170.4" x2="266.42" y2="173.4" stroke="#222" stroke-width="0.8"/>
<path d="M266.42 166.03 V170.40 M263.42 166.03 H269.42 M263.42 170.40 H269.42" stroke="#222" stroke-width="0.7" fill="none"/>
<circle cx="266.42" cy="158.33" r="1.2" fill="#111"/>
<circle cx="266.42" cy="164.21" r="1.2" fill="#111"/>
<circle cx="261.72" cy="168.83" r="1.2" fill="#111"/>
<circle cx="264.07" cy="168.55" r="1.2" fill="#111"/>
<circle cx="266.42" cy="168.83" r="1.2" fill="#111"/>
<circle cx="268.77" cy="168.55" r="1.2" fill="#111"/>
<circle cx="271.12" cy="168.83" r="1.2" fill="#111"/>
<text transform="translate(258.02,181.8) scale(0.9491,1)" font-size="6.2" fill="#404040" font-weight="normal">TNF-α</text>
<line x1="286.09" y1="170.4" x2="286.09" y2="173.4" stroke="#222" stroke-width="0.8"/>
<path d="M286.09 165.33 V170.40 M283.09 165.33 H289.09 M283.09 170.40 H289.09" stroke="#222" stroke-width="0.7" fill="none"/>
<circle cx="286.09" cy="161.83" r="1.2" fill="#111"/>
<circle cx="286.09" cy="167.25" r="1.2" fill="#111"/>
<circle cx="280.89" cy="169.53" r="1.2" fill="#111"/>
<circle cx="283.49" cy="169.25" r="1.2" fill="#111"/>
<circle cx="286.09" cy="169.53" r="1.2" fill="#111"/>
<circle cx="288.69" cy="169.25" r="1.2" fill="#111"/>
<circle cx="291.29" cy="169.53" r="1.2" fill="#111"/>
<text transform="translate(281.44,181.8) scale(0.8705,1)" font-size="6.2" fill="#404040" font-weight="normal" stroke="#404040" stroke-width="0.09">IL-6</text>
<line x1="305.76" y1="170.4" x2="305.76" y2="173.4" stroke="#222" stroke-width="0.8"/>
<path d="M305.76 167.08 V170.40 M302.76 167.08 H308.76 M302.76 170.40 H308.76" stroke="#222" stroke-width="0.7" fill="none"/>
<circle cx="304.06" cy="165.15" r="1.2" fill="#111"/>
<circle cx="307.56" cy="163.75" r="1.2" fill="#111"/>
<circle cx="305.76" cy="167.00" r="1.2" fill="#111"/>
<circle cx="300.76" cy="169.35" r="1.2" fill="#111"/>
<circle cx="303.26" cy="169.07" r="1.2" fill="#111"/>
<circle cx="305.76" cy="169.35" r="1.2" fill="#111"/>
<circle cx="308.26" cy="169.07" r="1.2" fill="#111"/>
<circle cx="310.76" cy="169.35" r="1.2" fill="#111"/>
<text transform="translate(299.61,181.8) scale(0.8704,1)" font-size="6.2" fill="#404040" font-weight="normal" stroke="#404040" stroke-width="0.09">IL-18</text>
<line x1="325.43" y1="170.4" x2="325.43" y2="173.4" stroke="#222" stroke-width="0.8"/>
<path d="M325.43 163.93 V170.40 M322.43 163.93 H328.43 M322.43 170.40 H328.43" stroke="#222" stroke-width="0.7" fill="none"/>
<circle cx="325.43" cy="160.00" r="1.2" fill="#111"/>
<circle cx="325.43" cy="163.75" r="1.2" fill="#111"/>
<circle cx="323.33" cy="166.55" r="1.2" fill="#111"/>
<circle cx="327.53" cy="166.55" r="1.2" fill="#111"/>
<circle cx="320.03" cy="169.35" r="1.2" fill="#111"/>
<circle cx="322.73" cy="169.07" r="1.2" fill="#111"/>
<circle cx="325.43" cy="169.35" r="1.2" fill="#111"/>
<circle cx="328.13" cy="169.07" r="1.2" fill="#111"/>
<circle cx="330.83" cy="169.35" r="1.2" fill="#111"/>
<text transform="translate(321.03,181.8) scale(0.8237,1)" font-size="6.2" fill="#404040" font-weight="normal" stroke="#404040" stroke-width="0.12">IL-1</text>
<line x1="345.10" y1="170.4" x2="345.10" y2="173.4" stroke="#222" stroke-width="0.8"/>
<path d="M345.10 165.33 V170.40 M342.10 165.33 H348.10 M342.10 170.40 H348.10" stroke="#222" stroke-width="0.7" fill="none"/>
<circle cx="345.10" cy="161.83" r="1.2" fill="#111"/>
<circle cx="345.10" cy="166.20" r="1.2" fill="#111"/>
<circle cx="339.50" cy="169.42" r="1.2" fill="#111"/>
<circle cx="342.30" cy="169.14" r="1.2" fill="#111"/>
<circle cx="345.10" cy="169.42" r="1.2" fill="#111"/>
<circle cx="347.90" cy="169.14" r="1.2" fill="#111"/>
<circle cx="350.70" cy="169.42" r="1.2" fill="#111"/>
<text transform="translate(335.1,181.8) scale(0.8933,1)" font-size="6.2" fill="#404040" font-weight="normal" stroke="#404040" stroke-width="0.07">GMCSF</text>
<line x1="364.77" y1="170.4" x2="364.77" y2="173.4" stroke="#222" stroke-width="0.8"/>
<path d="M364.77 168.47 V170.40 M361.77 168.47 H367.77 M361.77 170.40 H367.77" stroke="#222" stroke-width="0.7" fill="none"/>
<circle cx="367.77" cy="166.38" r="1.2" fill="#111"/>
<circle cx="359.77" cy="169.42" r="1.2" fill="#111"/>
<circle cx="362.27" cy="169.14" r="1.2" fill="#111"/>
<circle cx="364.77" cy="169.42" r="1.2" fill="#111"/>
<circle cx="367.27" cy="169.14" r="1.2" fill="#111"/>
<circle cx="369.77" cy="169.42" r="1.2" fill="#111"/>
<text transform="translate(360.12,181.8) scale(0.8705,1)" font-size="6.2" fill="#404040" font-weight="normal" stroke="#404040" stroke-width="0.09">IL-4</text>
<line x1="384.44" y1="170.4" x2="384.44" y2="173.4" stroke="#222" stroke-width="0.8"/>
<path d="M384.44 165.85 V170.40 M381.44 165.85 H387.44 M381.44 170.40 H387.44" stroke="#222" stroke-width="0.7" fill="none"/>
<circle cx="384.44" cy="161.83" r="1.2" fill="#111"/>
<circle cx="382.84" cy="165.61" r="1.2" fill="#111"/>
<circle cx="386.04" cy="165.61" r="1.2" fill="#111"/>
<circle cx="379.14" cy="169.35" r="1.2" fill="#111"/>
<circle cx="381.79" cy="169.07" r="1.2" fill="#111"/>
<circle cx="384.44" cy="169.35" r="1.2" fill="#111"/>
<circle cx="387.09" cy="169.07" r="1.2" fill="#111"/>
<circle cx="389.74" cy="169.35" r="1.2" fill="#111"/>
<text transform="translate(378.14,181.8) scale(0.8916,1)" font-size="6.2" fill="#404040" font-weight="normal" stroke="#404040" stroke-width="0.08">IL-1b</text>
<line x1="404.11" y1="170.4" x2="404.11" y2="173.4" stroke="#222" stroke-width="0.8"/>
<path d="M404.11 162.35 V165.50 M401.11 162.35 H407.11 M401.11 165.50 H407.11" stroke="#222" stroke-width="0.7" fill="none"/>
<circle cx="404.11" cy="158.15" r="1.2" fill="#111"/>
<circle cx="400.61" cy="161.47" r="1.2" fill="#111"/>
<circle cx="407.41" cy="161.47" r="1.2" fill="#111"/>
<circle cx="402.31" cy="163.93" r="1.2" fill="#111"/>
<circle cx="405.91" cy="163.93" r="1.2" fill="#111"/>
<circle cx="404.11" cy="167.08" r="1.2" fill="#111"/>
<text transform="translate(399.21,181.8) scale(0.9173,1)" font-size="6.2" fill="#404040" font-weight="normal">IL-7</text>
<line x1="423.78" y1="170.4" x2="423.78" y2="173.4" stroke="#222" stroke-width="0.8"/>
<path d="M423.78 109.67 V137.33 M420.38 109.67 H427.18 M420.38 137.33 H427.18" stroke="#222" stroke-width="0.7" fill="none"/>
<circle cx="423.78" cy="56.30" r="1.2" fill="#111"/>
<circle cx="423.78" cy="111.95" r="1.2" fill="#111"/>
<circle cx="423.78" cy="130.15" r="1.2" fill="#111"/>
<circle cx="421.88" cy="143.10" r="1.2" fill="#111"/>
<circle cx="426.08" cy="144.68" r="1.2" fill="#111"/>
<circle cx="423.78" cy="163.58" r="1.2" fill="#111"/>
<text transform="translate(418.53,181.8) scale(0.9828,1)" font-size="6.2" fill="#404040" font-weight="normal">IL-2</text>
<line x1="443.45" y1="170.4" x2="443.45" y2="173.4" stroke="#222" stroke-width="0.8"/>
<path d="M443.45 108.10 V135.40 M440.05 108.10 H446.85 M440.05 135.40 H446.85" stroke="#222" stroke-width="0.7" fill="none"/>
<circle cx="443.45" cy="65.40" r="1.2" fill="#111"/>
<circle cx="443.45" cy="81.15" r="1.2" fill="#111"/>
<circle cx="443.45" cy="111.25" r="1.2" fill="#111"/>
<circle cx="443.45" cy="136.80" r="1.2" fill="#111"/>
<circle cx="441.45" cy="147.12" r="1.2" fill="#111"/>
<circle cx="445.85" cy="148.00" r="1.2" fill="#111"/>
<circle cx="443.45" cy="155.70" r="1.2" fill="#111"/>
<text transform="translate(437.2,181.8) scale(0.8845,1)" font-size="6.2" fill="#404040" font-weight="normal" stroke="#404040" stroke-width="0.08">IL-15</text>
<line x1="463.12" y1="170.4" x2="463.12" y2="173.4" stroke="#222" stroke-width="0.8"/>
<path d="M463.12 122.28 V142.22 M459.72 122.28 H466.52 M459.72 142.22 H466.52" stroke="#222" stroke-width="0.7" fill="none"/>
<circle cx="463.12" cy="105.30" r="1.2" fill="#111"/>
<circle cx="463.12" cy="108.10" r="1.2" fill="#111"/>
<circle cx="463.12" cy="113.35" r="1.2" fill="#111"/>
<circle cx="463.12" cy="141.70" r="1.2" fill="#111"/>
<circle cx="463.12" cy="149.40" r="1.2" fill="#111"/>
<circle cx="463.12" cy="155.70" r="1.2" fill="#111"/>
<circle cx="463.12" cy="157.80" r="1.2" fill="#111"/>
<text transform="translate(457.82,181.8) scale(0.9922,1)" font-size="6.2" fill="#404040" font-weight="normal">IL-2</text>
<line x1="482.79" y1="170.4" x2="482.79" y2="173.4" stroke="#222" stroke-width="0.8"/>
<path d="M482.79 158.08 V166.13 M479.79 158.08 H485.79 M479.79 166.13 H485.79" stroke="#222" stroke-width="0.7" fill="none"/>
<circle cx="482.29" cy="150.62" r="1.2" fill="#111"/>
<circle cx="487.09" cy="151.68" r="1.2" fill="#111"/>
<circle cx="482.29" cy="153.95" r="1.2" fill="#111"/>
<circle cx="480.29" cy="166.90" r="1.2" fill="#111"/>
<circle cx="485.29" cy="166.90" r="1.2" fill="#111"/>
<circle cx="478.39" cy="169.35" r="1.2" fill="#111"/>
<circle cx="481.32" cy="169.07" r="1.2" fill="#111"/>
<circle cx="484.26" cy="169.35" r="1.2" fill="#111"/>
<circle cx="487.19" cy="169.07" r="1.2" fill="#111"/>
<text transform="translate(477.09,181.8) scale(0.8946,1)" font-size="6.2" fill="#404040" font-weight="normal" stroke="#404040" stroke-width="0.07">TCR</text>
<line x1="502.46" y1="170.4" x2="502.46" y2="173.4" stroke="#222" stroke-width="0.8"/>
<path d="M502.46 166.31 V170.40 M499.46 166.31 H505.46 M499.46 170.40 H505.46" stroke="#222" stroke-width="0.7" fill="none"/>
<circle cx="502.36" cy="160.78" r="1.2" fill="#111"/>
<circle cx="504.76" cy="163.40" r="1.2" fill="#111"/>
<circle cx="502.56" cy="165.15" r="1.2" fill="#111"/>
<circle cx="497.46" cy="169.35" r="1.2" fill="#111"/>
<circle cx="499.96" cy="169.07" r="1.2" fill="#111"/>
<circle cx="502.46" cy="169.35" r="1.2" fill="#111"/>
<circle cx="504.96" cy="169.07" r="1.2" fill="#111"/>
<circle cx="507.46" cy="169.35" r="1.2" fill="#111"/>
<text transform="translate(493.01,181.8) scale(1.0350,1)" font-size="6.2" fill="#404040" font-weight="normal">unstim</text>
<circle cx="423.3" cy="40" r="0.8" fill="#777"/>
<circle cx="441.3" cy="40" r="0.8" fill="#777"/>
<circle cx="463.8" cy="40" r="0.8" fill="#777"/>
<text transform="translate(453.67,189.6) scale(0.9910,1)" font-size="6.2" fill="#404040" font-weight="normal">+ IL-15</text>
<text transform="translate(477.29,189.6) scale(0.9679,1)" font-size="6.2" fill="#404040" font-weight="normal">stim</text>
<line x1="39.3" y1="351.20" x2="42.5" y2="351.20" stroke="#222" stroke-width="0.9"/>
<text transform="translate(32.8,353.5) scale(0.8491,1)" font-size="7.2" fill="#333" font-weight="normal" stroke="#333" stroke-width="0.11">0</text>
<line x1="39.3" y1="311.52" x2="42.5" y2="311.52" stroke="#222" stroke-width="0.9"/>
<text transform="translate(29.4,313.82) scale(0.8491,1)" font-size="7.2" fill="#333" font-weight="normal" stroke="#333" stroke-width="0.11">10</text>
<line x1="39.3" y1="271.84" x2="42.5" y2="271.84" stroke="#222" stroke-width="0.9"/>
<text transform="translate(29.4,274.14) scale(0.8491,1)" font-size="7.2" fill="#333" font-weight="normal" stroke="#333" stroke-width="0.11">20</text>
<line x1="39.3" y1="232.16" x2="42.5" y2="232.16" stroke="#222" stroke-width="0.9"/>
<text transform="translate(29.4,234.46) scale(0.8491,1)" font-size="7.2" fill="#333" font-weight="normal" stroke="#333" stroke-width="0.11">30</text>
<text transform="translate(10.9,289.2) rotate(-90) translate(-52.25,2.84) scale(0.8590,1)" font-size="7.9" fill="#262626" stroke="#262626" stroke-width="0.13">% of bystander-phenotype-positive</text>
<text transform="translate(21.4,291.0) rotate(-90) translate(-19.25,2.84) scale(0.8500,1)" font-size="7.9" fill="#262626" stroke="#262626" stroke-width="0.14">CD8+ T-cells</text>
<rect x="52.90" y="347.20" width="19.0" height="4.00" fill="#ab93b6"/>
<rect x="82.45" y="346.60" width="19.0" height="4.60" fill="#b7b5e0"/>
<rect x="112.00" y="348.32" width="19.0" height="2.88" fill="#b3d3db"/>
<rect x="141.55" y="341.60" width="19.0" height="9.60" fill="#a8d4c9"/>
<rect x="171.10" y="326.40" width="19.0" height="24.80" fill="#c6dea8"/>
<rect x="200.65" y="290.00" width="19.0" height="61.20" fill="#f2656d"/>
<rect x="230.20" y="303.20" width="19.0" height="48.00" fill="#9d7da9"/>
<line x1="42.5" y1="229.3" x2="42.5" y2="351.8" stroke="#1a1a1a" stroke-width="1.1"/>
<line x1="39.7" y1="351.2" x2="257.5" y2="351.2" stroke="#1a1a1a" stroke-width="1.2"/>
<line x1="62.40" y1="351.2" x2="62.40" y2="354.4" stroke="#222" stroke-width="0.8"/>
<path d="M62.40 344.00 V350.20 M58.00 344.00 H66.80 M58.00 350.20 H66.80" stroke="#222" stroke-width="0.7" fill="none"/>
<circle cx="56.75" cy="349.25" r="2.15" fill="#111"/>
<path d="M63.95 348.00 L66.25 345.70 L68.55 348.00 L66.25 350.30 Z" fill="#111"/>
<path d="M59.55 339.92 L64.45 339.92 L62.00 344.33 Z" fill="#111"/>
<text transform="translate(52.9,362.2) scale(1.0079,1)" font-size="6.4" fill="#404040" font-weight="normal">unstim</text>
<line x1="91.95" y1="351.2" x2="91.95" y2="354.4" stroke="#222" stroke-width="0.8"/>
<path d="M91.95 343.40 V349.40 M87.55 343.40 H96.35 M87.55 349.40 H96.35" stroke="#222" stroke-width="0.7" fill="none"/>
<circle cx="86.75" cy="343.25" r="2.15" fill="#111"/>
<path d="M93.80 341.67 L98.70 341.67 L96.25 346.08 Z" fill="#111"/>
<path d="M89.45 349.50 L91.75 347.20 L94.05 349.50 L91.75 351.80 Z" fill="#111"/>
<text transform="translate(80.6,362.2) scale(1.0295,1)" font-size="6.4" fill="#404040" font-weight="normal">10 U/ml</text>
<line x1="121.50" y1="351.2" x2="121.50" y2="354.4" stroke="#222" stroke-width="0.8"/>
<path d="M121.50 345.20 V351.20 M117.10 345.20 H125.90 M117.10 351.20 H125.90" stroke="#222" stroke-width="0.7" fill="none"/>
<path d="M119.30 339.92 L124.20 339.92 L121.75 344.33 Z" fill="#111"/>
<circle cx="116.75" cy="350.50" r="2.15" fill="#111"/>
<path d="M123.45 350.00 L125.75 347.70 L128.05 350.00 L125.75 352.30 Z" fill="#111"/>
<text transform="translate(110.15,362.2) scale(1.0295,1)" font-size="6.4" fill="#404040" font-weight="normal">25 U/ml</text>
<line x1="151.05" y1="351.2" x2="151.05" y2="354.4" stroke="#222" stroke-width="0.8"/>
<path d="M151.05 339.40 V344.00 M146.65 339.40 H155.45 M146.65 344.00 H155.45" stroke="#222" stroke-width="0.7" fill="none"/>
<circle cx="146.25" cy="337.50" r="2.15" fill="#111"/>
<path d="M152.55 336.67 L157.45 336.67 L155.00 341.08 Z" fill="#111"/>
<path d="M148.45 345.00 L150.75 342.70 L153.05 345.00 L150.75 347.30 Z" fill="#111"/>
<text transform="translate(139.7,362.2) scale(1.0295,1)" font-size="6.4" fill="#404040" font-weight="normal">50 U/ml</text>
<line x1="180.60" y1="351.2" x2="180.60" y2="354.4" stroke="#222" stroke-width="0.8"/>
<path d="M180.60 314.80 V338.00 M175.40 314.80 H185.80 M175.40 338.00 H185.80" stroke="#222" stroke-width="0.7" fill="none"/>
<path d="M178.30 301.02 L183.20 301.02 L180.75 305.43 Z" fill="#111"/>
<circle cx="175.80" cy="338.20" r="2.15" fill="#111"/>
<path d="M183.00 336.70 L185.30 334.40 L187.60 336.70 L185.30 339.00 Z" fill="#111"/>
<text transform="translate(167.45,362.2) scale(1.0269,1)" font-size="6.4" fill="#404040" font-weight="normal">100 U/ml</text>
<line x1="210.15" y1="351.2" x2="210.15" y2="354.4" stroke="#222" stroke-width="0.8"/>
<path d="M210.15 263.60 V316.40 M204.95 263.60 H215.35 M204.95 316.40 H215.35" stroke="#222" stroke-width="0.7" fill="none"/>
<path d="M207.75 235.42 L212.65 235.42 L210.20 239.83 Z" fill="#111"/>
<circle cx="205.30" cy="315.60" r="2.15" fill="#111"/>
<path d="M212.40 315.60 L214.70 313.30 L217.00 315.60 L214.70 317.90 Z" fill="#111"/>
<text transform="translate(197.0,362.2) scale(1.0269,1)" font-size="6.4" fill="#404040" font-weight="normal">500 U/ml</text>
<line x1="239.70" y1="351.2" x2="239.70" y2="354.4" stroke="#222" stroke-width="0.8"/>
<path d="M239.70 291.20 V314.00 M234.50 291.20 H244.90 M234.50 314.00 H244.90" stroke="#222" stroke-width="0.7" fill="none"/>
<path d="M236.75 280.32 L241.65 280.32 L239.20 284.73 Z" fill="#111"/>
<path d="M236.90 304.20 L239.20 301.90 L241.50 304.20 L239.20 306.50 Z" fill="#111"/>
<circle cx="239.20" cy="320.50" r="2.15" fill="#111"/>
<text transform="translate(224.8,362.2) scale(1.0216,1)" font-size="6.4" fill="#404040" font-weight="normal">1000 U/ml</text>
<line x1="295.40000000000003" y1="351.20" x2="298.6" y2="351.20" stroke="#222" stroke-width="0.9"/>
<text transform="translate(289.1,353.5) scale(0.8491,1)" font-size="7.2" fill="#333" font-weight="normal" stroke="#333" stroke-width="0.11">0</text>
<line x1="295.40000000000003" y1="311.52" x2="298.6" y2="311.52" stroke="#222" stroke-width="0.9"/>
<text transform="translate(285.7,313.82) scale(0.8491,1)" font-size="7.2" fill="#333" font-weight="normal" stroke="#333" stroke-width="0.11">10</text>
<line x1="295.40000000000003" y1="271.84" x2="298.6" y2="271.84" stroke="#222" stroke-width="0.9"/>
<text transform="translate(285.7,274.14) scale(0.8491,1)" font-size="7.2" fill="#333" font-weight="normal" stroke="#333" stroke-width="0.11">20</text>
<line x1="295.40000000000003" y1="232.16" x2="298.6" y2="232.16" stroke="#222" stroke-width="0.9"/>
<text transform="translate(285.7,234.46) scale(0.8491,1)" font-size="7.2" fill="#333" font-weight="normal" stroke="#333" stroke-width="0.11">30</text>
<text transform="translate(267.2,289.7) rotate(-90) translate(-52.25,2.84) scale(0.8590,1)" font-size="7.9" fill="#262626" stroke="#262626" stroke-width="0.13">% of bystander-phenotype-positive</text>
<text transform="translate(277.2,291.5) rotate(-90) translate(-19.25,2.84) scale(0.8500,1)" font-size="7.9" fill="#262626" stroke="#262626" stroke-width="0.14">CD8+ T-cells</text>
<rect x="308.80" y="346.72" width="19.0" height="4.48" fill="#ab93b6"/>
<rect x="338.05" y="334.40" width="19.0" height="16.80" fill="#aaa7d6"/>
<rect x="367.30" y="343.80" width="19.0" height="7.40" fill="#a3c7dd"/>
<rect x="396.55" y="324.20" width="19.0" height="27.00" fill="#a8d4c9"/>
<rect x="425.80" y="309.20" width="19.0" height="42.00" fill="#c6dea8"/>
<rect x="455.05" y="308.00" width="19.0" height="43.20" fill="#faf3a2"/>
<rect x="484.30" y="287.60" width="19.0" height="63.60" fill="#f2656d"/>
<line x1="298.6" y1="229.3" x2="298.6" y2="351.8" stroke="#1a1a1a" stroke-width="1.1"/>
<line x1="295.8" y1="351.2" x2="513.3" y2="351.2" stroke="#1a1a1a" stroke-width="1.2"/>
<line x1="318.30" y1="351.2" x2="318.30" y2="354.4" stroke="#222" stroke-width="0.8"/>
<path d="M318.30 344.80 V349.40 M313.90 344.80 H322.70 M313.90 349.40 H322.70" stroke="#222" stroke-width="0.7" fill="none"/>
<path d="M315.85 345.18 L320.75 345.18 L318.30 340.77 Z" fill="#111"/>
<circle cx="313.40" cy="348.40" r="2.15" fill="#111"/>
<path d="M320.50 347.60 L322.80 345.30 L325.10 347.60 L322.80 349.90 Z" fill="#111"/>
<text transform="translate(309.0,362.2) scale(0.9867,1)" font-size="6.4" fill="#404040" font-weight="normal">unstim</text>
<line x1="347.55" y1="351.2" x2="347.55" y2="354.4" stroke="#222" stroke-width="0.8"/>
<path d="M347.55 324.20 V344.40 M342.75 324.20 H352.35 M342.75 344.40 H352.35" stroke="#222" stroke-width="0.7" fill="none"/>
<path d="M344.95 317.68 L349.85 317.68 L347.40 313.27 Z" fill="#111"/>
<path d="M340.40 344.00 L342.70 341.70 L345.00 344.00 L342.70 346.30 Z" fill="#111"/>
<circle cx="351.70" cy="341.80" r="2.15" fill="#111"/>
<text transform="translate(337.85,362.2) scale(1.0099,1)" font-size="6.4" fill="#404040" font-weight="normal">1ng/ml</text>
<line x1="376.80" y1="351.2" x2="376.80" y2="354.4" stroke="#222" stroke-width="0.8"/>
<path d="M376.80 339.40 V347.80 M372.40 339.40 H381.20 M372.40 347.80 H381.20" stroke="#222" stroke-width="0.7" fill="none"/>
<path d="M374.05 339.18 L378.95 339.18 L376.50 334.77 Z" fill="#111"/>
<path d="M369.80 347.10 L372.10 344.80 L374.40 347.10 L372.10 349.40 Z" fill="#111"/>
<circle cx="380.60" cy="344.90" r="2.15" fill="#111"/>
<text transform="translate(363.35,362.2) scale(1.0218,1)" font-size="6.4" fill="#404040" font-weight="normal">2.5 ng/ml</text>
<line x1="406.05" y1="351.2" x2="406.05" y2="354.4" stroke="#222" stroke-width="0.8"/>
<path d="M406.05 306.40 V342.20 M400.85 306.40 H411.25 M400.85 342.20 H411.25" stroke="#222" stroke-width="0.7" fill="none"/>
<path d="M403.55 291.98 L408.45 291.98 L406.00 287.57 Z" fill="#111"/>
<circle cx="401.00" cy="342.70" r="2.15" fill="#111"/>
<path d="M407.80 339.30 L410.10 337.00 L412.40 339.30 L410.10 341.60 Z" fill="#111"/>
<text transform="translate(395.68,362.2) scale(0.9887,1)" font-size="6.4" fill="#404040" font-weight="normal">5 ng/ml</text>
<line x1="435.30" y1="351.2" x2="435.30" y2="354.4" stroke="#222" stroke-width="0.8"/>
<path d="M435.30 285.20 V333.20 M430.10 285.20 H440.50 M430.10 333.20 H440.50" stroke="#222" stroke-width="0.7" fill="none"/>
<path d="M432.65 264.78 L437.55 264.78 L435.10 260.37 Z" fill="#111"/>
<path d="M432.80 323.10 L435.10 320.80 L437.40 323.10 L435.10 325.40 Z" fill="#111"/>
<circle cx="435.10" cy="342.00" r="2.15" fill="#111"/>
<text transform="translate(423.18,362.2) scale(0.9879,1)" font-size="6.4" fill="#404040" font-weight="normal">10 ng/ml</text>
<line x1="464.55" y1="351.2" x2="464.55" y2="354.4" stroke="#222" stroke-width="0.8"/>
<path d="M464.55 289.60 V326.00 M459.35 289.60 H469.75 M459.35 326.00 H469.75" stroke="#222" stroke-width="0.7" fill="none"/>
<path d="M461.95 274.98 L466.85 274.98 L464.40 270.57 Z" fill="#111"/>
<path d="M462.10 318.60 L464.40 316.30 L466.70 318.60 L464.40 320.90 Z" fill="#111"/>
<circle cx="464.40" cy="332.50" r="2.15" fill="#111"/>
<text transform="translate(452.3,362.2) scale(0.9981,1)" font-size="6.4" fill="#404040" font-weight="normal">25 ng/ml</text>
<line x1="493.80" y1="351.2" x2="493.80" y2="354.4" stroke="#222" stroke-width="0.8"/>
<path d="M493.80 265.60 V308.80 M488.60 265.60 H499.00 M488.60 308.80 H499.00" stroke="#222" stroke-width="0.7" fill="none"/>
<path d="M491.15 247.88 L496.05 247.88 L493.60 243.47 Z" fill="#111"/>
<path d="M491.30 299.70 L493.60 297.40 L495.90 299.70 L493.60 302.00 Z" fill="#111"/>
<circle cx="493.60" cy="316.70" r="2.15" fill="#111"/>
<text transform="translate(481.68,362.2) scale(0.9879,1)" font-size="6.4" fill="#404040" font-weight="normal">50 ng/ml</text>
</svg>
</body></html>
